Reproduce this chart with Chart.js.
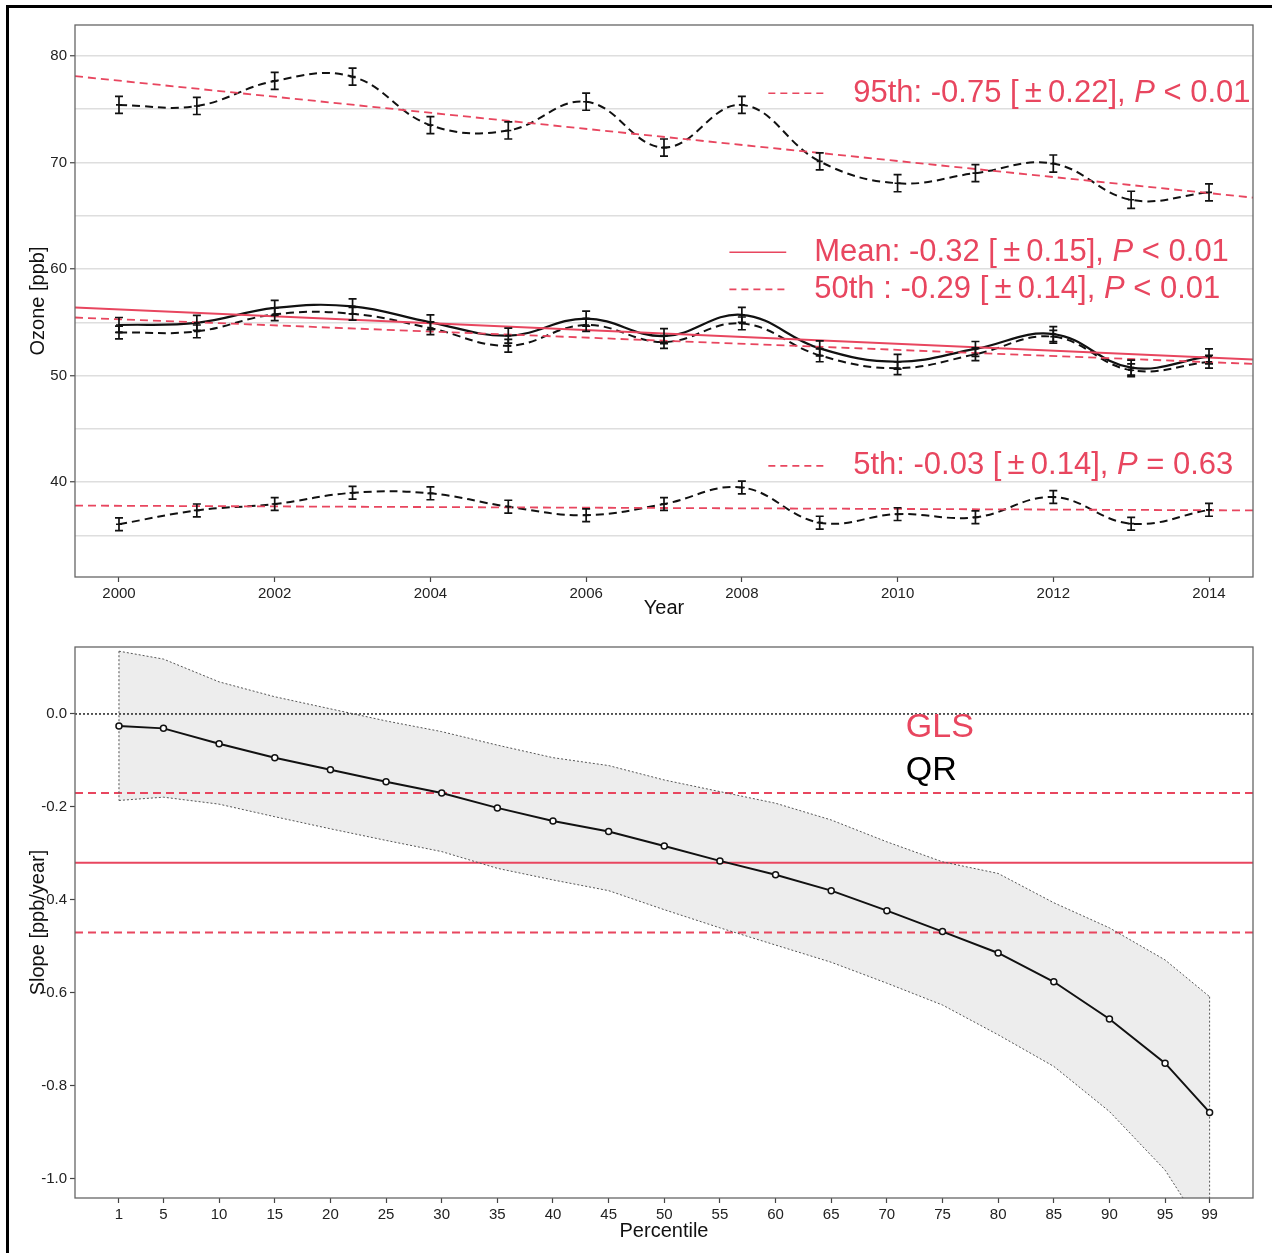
<!DOCTYPE html>
<html>
<head>
<meta charset="utf-8">
<script src="https://cdn.jsdelivr.net/npm/chart.js@4.4.0/dist/chart.umd.min.js"></script>
<style>
  body { margin: 0; background: #fff; }
  #wrap { position: relative; width: 1272px; height: 1253px; overflow: hidden; background: #fff; }
  #frame { position: absolute; left: 6px; top: 5px; width: 1400px; height: 1400px;
           border-left: 3px solid #000; border-top: 3px solid #000; pointer-events: none; }
  canvas { position: absolute; left: 0; }
  #ozone { top: 0; }
  #slope { top: 630px; }
</style>
</head>
<body>
<div id="wrap">
  <canvas id="ozone" width="1272" height="630"></canvas>
  <canvas id="slope" width="1272" height="623"></canvas>
  <div id="frame"></div>
</div>
<script>
// ---- data of the upper panel (annual ozone, ppb) ----
var years = [2000, 2001, 2002, 2003, 2004, 2005, 2006, 2007, 2008, 2009, 2010, 2011, 2012, 2013, 2014];
var q95 = [75.4, 75.3, 77.65, 78.05, 73.5, 73.0, 75.7, 71.4, 75.4, 70.1, 68.05, 69.0, 69.9, 66.5, 67.2];
var meanO3 = [54.75, 54.95, 56.35, 56.5, 55.0, 53.75, 55.35, 53.7, 55.7, 52.55, 51.3, 52.5, 53.9, 50.75, 51.8];
var q50 = [54.05, 54.15, 55.75, 55.8, 54.45, 52.8, 54.75, 53.15, 54.9, 51.9, 50.7, 52.0, 53.65, 50.5, 51.3];
var q05 = [36.05, 37.35, 37.95, 39.0, 38.95, 37.7, 36.9, 37.95, 39.5, 36.2, 37.0, 36.7, 38.6, 36.1, 37.4];
var q95Err = 0.8, meanErr = 0.7, q50Err = 0.6, q05Err = 0.6;

// GLS trend lines, value at left and right edge of the panel
var trend95 = [78.1, 66.7];
var trendMean = [56.4, 51.5];
var trend50 = [55.45, 51.1];
var trend05 = [37.8, 37.35];

// ---- data of the lower panel (slope per percentile, ppb/year) ----
var pctl = [1, 5, 10, 15, 20, 25, 30, 35, 40, 45, 50, 55, 60, 65, 70, 75, 80, 85, 90, 95, 99];
var qrSlope = [-0.026, -0.031, -0.064, -0.094, -0.120, -0.146, -0.170, -0.202, -0.230, -0.253, -0.284,
               -0.316, -0.346, -0.380, -0.423, -0.468, -0.514, -0.576, -0.656, -0.751, -0.857];
var ciUpper = [0.135, 0.118, 0.069, 0.037, 0.011, -0.015, -0.038, -0.067, -0.094, -0.111, -0.142,
               -0.167, -0.192, -0.228, -0.275, -0.318, -0.343, -0.406, -0.460, -0.529, -0.608];
var ciLower = [-0.186, -0.179, -0.194, -0.221, -0.247, -0.272, -0.296, -0.332, -0.357, -0.380, -0.421,
               -0.460, -0.497, -0.534, -0.579, -0.626, -0.690, -0.758, -0.855, -0.981, -1.13];
var glsMean = -0.32, glsLow = -0.47, glsHigh = -0.17;

var RED = '#e8465f';
var FONT = '"Liberation Sans", Arial, Helvetica, sans-serif';
Chart.defaults.font.family = FONT;
Chart.defaults.color = '#222';
Chart.defaults.animation = false;

var X1 = { min: 1999.435, max: 2014.565 };
var X2 = { min: -2.95, max: 102.9 };

function pts(xs, ys) {
  return xs.map(function (x, i) { return { x: x, y: ys[i] }; });
}
function edgeLine(range, v) {
  return [{ x: range.min, y: v[0] }, { x: range.max, y: v[1] }];
}

// draws a text run where some parts are italic
function drawRich(ctx, x, y, parts, size, color) {
  ctx.fillStyle = color;
  ctx.textAlign = 'left';
  ctx.textBaseline = 'alphabetic';
  parts.forEach(function (p) {
    ctx.font = (p[1] ? 'italic ' : '') + size + 'px ' + FONT;
    ctx.fillText(p[0], x, y);
    x += ctx.measureText(p[0]).width;
  });
}

var frameBox = {
  id: 'frameBox',
  afterDraw: function (chart) {
    var a = chart.chartArea, c = chart.ctx;
    c.save();
    c.strokeStyle = '#666';
    c.lineWidth = 1.3;
    c.strokeRect(a.left, a.top, a.right - a.left, a.bottom - a.top);
    c.restore();
  }
};

// error bars of the upper panel
var errSeries = [
  { values: q95, err: q95Err },
  { values: meanO3, err: meanErr },
  { values: q50, err: q50Err },
  { values: q05, err: q05Err }
];
var errBars = {
  id: 'errBars',
  afterDatasetsDraw: function (chart) {
    var xs = chart.scales.x, ys = chart.scales.y, ctx = chart.ctx;
    ctx.save();
    ctx.strokeStyle = '#111';
    ctx.lineWidth = 1.7;
    errSeries.forEach(function (s) {
      s.values.forEach(function (v, i) {
        var px = xs.getPixelForValue(years[i]);
        var top = ys.getPixelForValue(v + s.err);
        var bot = ys.getPixelForValue(v - s.err);
        var mid = ys.getPixelForValue(v);
        ctx.beginPath();
        ctx.moveTo(px, top); ctx.lineTo(px, bot);
        ctx.moveTo(px - 4, top); ctx.lineTo(px + 4, top);
        ctx.moveTo(px - 4, bot); ctx.lineTo(px + 4, bot);
        ctx.moveTo(px - 3, mid); ctx.lineTo(px + 3, mid);
        ctx.stroke();
      });
    });
    ctx.restore();
  }
};

// legend entries written inside the upper panel
var notes = [
  { key: [2008.34, 2009.085], y: 76.5, dash: true, textX: 2009.43,
    parts: [['95th: -0.75 [\u2009\u00b1\u20090.22], ', 0], ['P', 1], [' < 0.01', 0]] },
  { key: [2007.84, 2008.57], y: 61.57, dash: false, textX: 2008.93,
    parts: [['Mean: -0.32 [\u2009\u00b1\u20090.15], ', 0], ['P', 1], [' < 0.01', 0]] },
  { key: [2007.84, 2008.57], y: 58.09, dash: true, textX: 2008.93,
    parts: [['50th : -0.29 [\u2009\u00b1\u20090.14], ', 0], ['P', 1], [' < 0.01', 0]] },
  { key: [2008.34, 2009.085], y: 41.53, dash: true, textX: 2009.43,
    parts: [['5th: -0.03 [\u2009\u00b1\u20090.14], ', 0], ['P', 1], [' = 0.63', 0]] }
];
var ozoneNotes = {
  id: 'ozoneNotes',
  afterDraw: function (chart) {
    var xs = chart.scales.x, ys = chart.scales.y, ctx = chart.ctx;
    ctx.save();
    notes.forEach(function (n) {
      var py = ys.getPixelForValue(n.y);
      ctx.strokeStyle = RED;
      ctx.lineWidth = 1.6;
      ctx.setLineDash(n.dash ? [7, 5] : []);
      ctx.beginPath();
      ctx.moveTo(xs.getPixelForValue(n.key[0]), py);
      ctx.lineTo(xs.getPixelForValue(n.key[1]), py);
      ctx.stroke();
      ctx.setLineDash([]);
      drawRich(ctx, xs.getPixelForValue(n.textX), py + 8.5, n.parts, 31, RED);
    });
    ctx.restore();
  }
};

var slopeNotes = {
  id: 'slopeNotes',
  afterDraw: function (chart) {
    var xs = chart.scales.x, ys = chart.scales.y, ctx = chart.ctx;
    ctx.save();
    drawRich(ctx, xs.getPixelForValue(71.7), ys.getPixelForValue(-0.0495), [['GLS', 0]], 34, RED);
    drawRich(ctx, xs.getPixelForValue(71.7), ys.getPixelForValue(-0.142), [['QR', 0]], 34, '#000');
    ctx.restore();
  }
};

function curve(data, dash, width) {
  return { data: data, borderColor: '#111', borderWidth: width || 2, borderDash: dash ? [8, 5] : [],
           pointRadius: 0, tension: 0.4, fill: false };
}
function trend(data, dash) {
  return { data: data, borderColor: RED, borderWidth: dash ? 1.8 : 2, borderDash: dash ? [8, 5] : [],
           pointRadius: 0, tension: 0, fill: false };
}

new Chart(document.getElementById('ozone'), {
  type: 'line',
  data: {
    datasets: [
      trend(edgeLine(X1, trend95), true),
      trend(edgeLine(X1, trendMean), false),
      trend(edgeLine(X1, trend50), true),
      trend(edgeLine(X1, trend05), true),
      curve(pts(years, q95), true),
      curve(pts(years, meanO3), false, 2.2),
      curve(pts(years, q50), true),
      curve(pts(years, q05), true)
    ]
  },
  options: {
    responsive: false,
    events: [],
    layout: { padding: { left: 0, top: 25, right: 19, bottom: 0 } },
    plugins: { legend: { display: false }, tooltip: { enabled: false } },
    scales: {
      x: {
        type: 'linear', min: X1.min, max: X1.max,
        afterFit: function (s) { s.height = 53; },
        border: { display: false },
        grid: { drawOnChartArea: false, tickLength: 5, tickColor: '#444', tickWidth: 1.2 },
        ticks: { stepSize: 2, includeBounds: false, padding: 3, font: { size: 15 },
                 callback: function (v) { return String(v); } },
        title: { display: true, text: 'Year', font: { size: 20 }, color: '#111', padding: { top: 0, bottom: 10 } }
      },
      y: {
        min: 31.1, max: 82.9,
        afterFit: function (s) { s.width = 75; },
        border: { display: false },
        grid: {
          color: '#dedede', lineWidth: 1.5, tickLength: 5, tickWidth: 1.2,
          tickColor: function (c) { return c.tick && c.tick.value % 10 === 0 ? '#444' : 'rgba(0,0,0,0)'; }
        },
        ticks: { stepSize: 5, includeBounds: false, padding: 3, font: { size: 15 },
                 callback: function (v) { return v % 10 === 0 ? String(v) : ''; } },
        title: { display: true, text: 'Ozone [ppb]', font: { size: 20 }, color: '#111', padding: { top: 26, bottom: 0 } }
      }
    }
  },
  plugins: [errBars, ozoneNotes, frameBox]
});

function thin(data, color, dash, width) {
  return { data: data, borderColor: color, borderWidth: width, borderDash: dash, pointRadius: 0,
           tension: 0, fill: false };
}

new Chart(document.getElementById('slope'), {
  type: 'line',
  data: {
    datasets: [
      { data: pts(pctl, ciUpper), borderColor: '#555', borderWidth: 1, borderDash: [2, 2], pointRadius: 0,
        tension: 0, fill: '+1', backgroundColor: '#ededed' },
      thin(pts(pctl, ciLower), '#555', [2, 2], 1),
      thin([{ x: pctl[0], y: ciUpper[0] }, { x: pctl[0], y: ciLower[0] }], '#555', [2, 2], 1),
      thin([{ x: pctl[pctl.length - 1], y: ciUpper[pctl.length - 1] },
            { x: pctl[pctl.length - 1], y: ciLower[pctl.length - 1] }], '#555', [2, 2], 1),
      thin([{ x: X2.min, y: 0 }, { x: X2.max, y: 0 }], '#222', [2, 2], 1.5),
      thin([{ x: X2.min, y: glsHigh }, { x: X2.max, y: glsHigh }], RED, [8, 5], 1.8),
      thin([{ x: X2.min, y: glsMean }, { x: X2.max, y: glsMean }], RED, [], 2.2),
      thin([{ x: X2.min, y: glsLow }, { x: X2.max, y: glsLow }], RED, [8, 5], 1.8),
      { data: pts(pctl, qrSlope), borderColor: '#111', borderWidth: 2, tension: 0, fill: false, order: -1,
        pointRadius: 3, pointBorderWidth: 1.5, pointBackgroundColor: '#fff', pointBorderColor: '#111' }
    ]
  },
  options: {
    responsive: false,
    events: [],
    layout: { padding: { left: 0, top: 17, right: 19, bottom: 0 } },
    plugins: { legend: { display: false }, tooltip: { enabled: false },
               filler: { drawTime: 'beforeDatasetsDraw' } },
    scales: {
      x: {
        type: 'linear', min: X2.min, max: X2.max,
        afterFit: function (s) { s.height = 55; },
        afterBuildTicks: function (s) { s.ticks = pctl.map(function (v) { return { value: v }; }); },
        border: { display: false },
        grid: { drawOnChartArea: false, tickLength: 5, tickColor: '#444', tickWidth: 1.2 },
        ticks: { padding: 3, font: { size: 15 }, autoSkip: false, maxRotation: 0,
                 callback: function (v) { return String(v); } },
        title: { display: true, text: 'Percentile', font: { size: 20 }, color: '#111', padding: { top: 0, bottom: 10 } }
      },
      y: {
        min: -1.041, max: 0.144,
        afterFit: function (s) { s.width = 75; },
        border: { display: false },
        grid: { drawOnChartArea: false, tickLength: 5, tickColor: '#444', tickWidth: 1.2 },
        ticks: { stepSize: 0.2, includeBounds: false, padding: 3, font: { size: 15 },
                 callback: function (v) { return (Math.abs(v) < 1e-9 ? 0 : v).toFixed(1); } },
        title: { display: true, text: 'Slope [ppb/year]', font: { size: 20 }, color: '#111', padding: { top: 26, bottom: 0 } }
      }
    }
  },
  plugins: [slopeNotes, frameBox]
});
</script>
</body>
</html>
